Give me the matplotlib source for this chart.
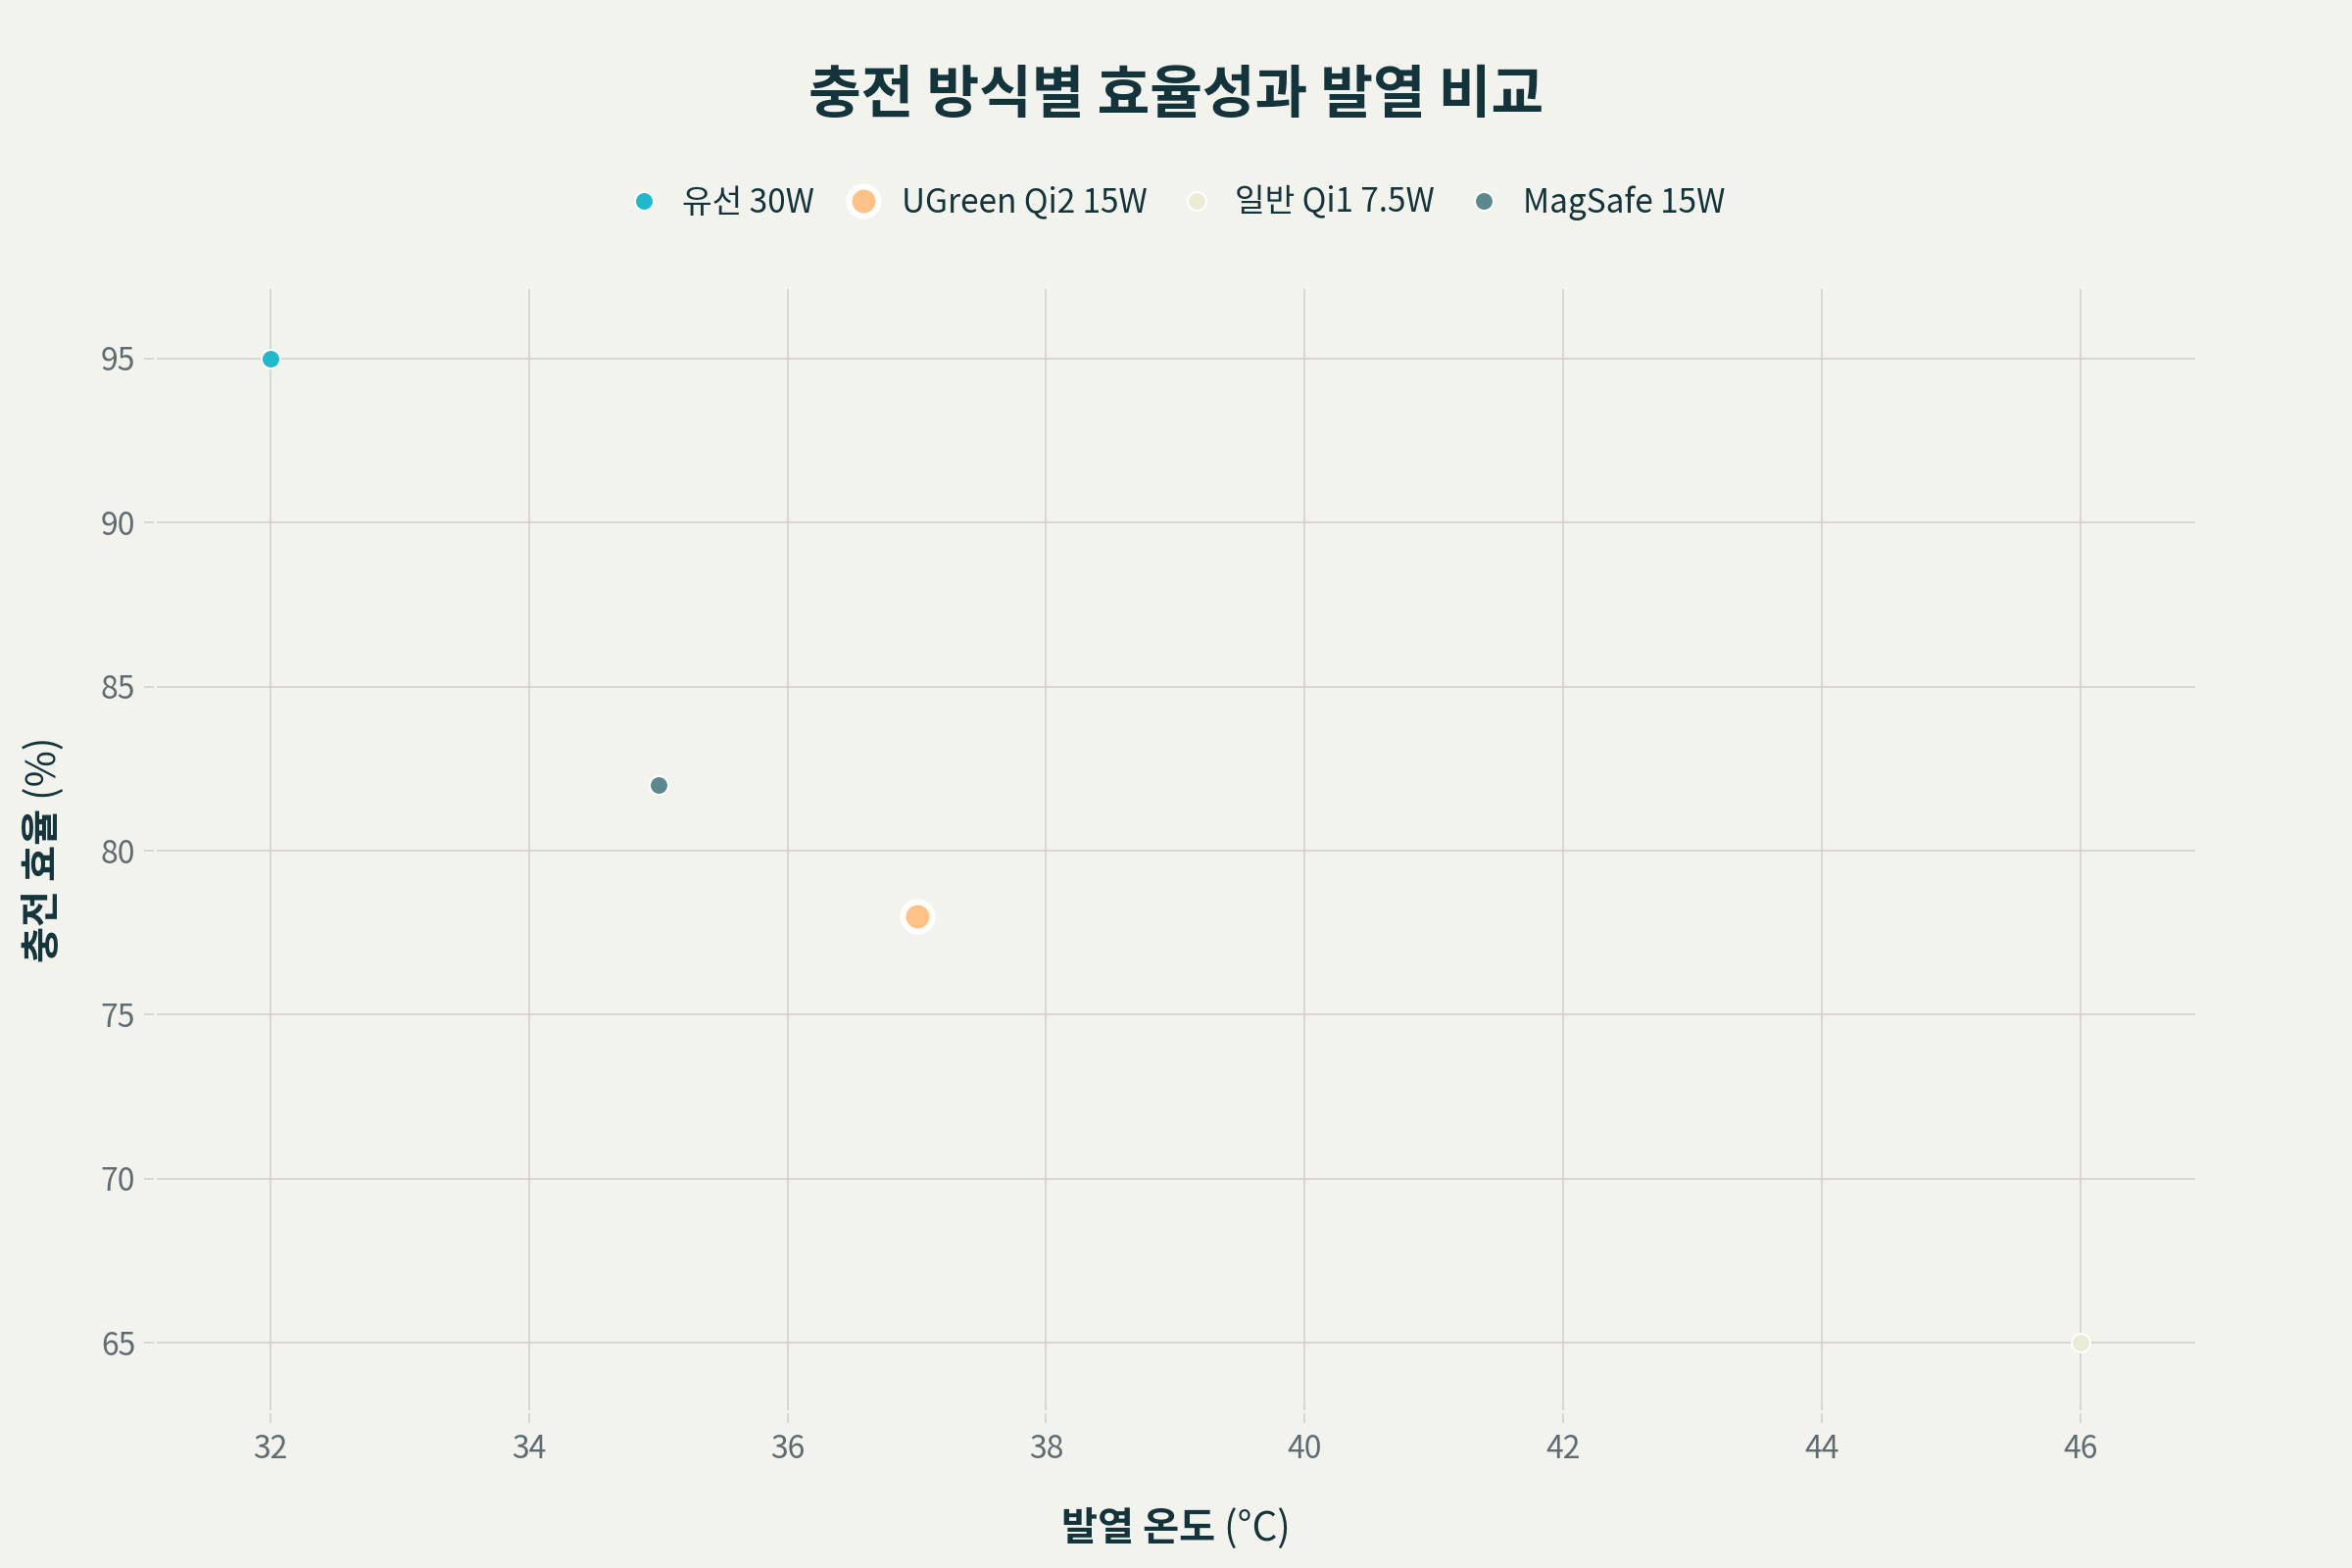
import matplotlib
matplotlib.use('Agg')
import matplotlib.pyplot as plt

plt.rcParams['font.family'] = ['Noto Sans CJK KR', 'DejaVu Sans']

# data
labels = ['유선 30W', 'UGreen Qi2 15W', '일반 Qi1 7.5W', 'MagSafe 15W']
temps = [32, 37, 46, 35]
effs = [95, 78, 65, 82]
colors = ['#1FB8CD', '#FFC185', '#ECEBD5', '#5D878F']
x_ticks = [32, 34, 36, 38, 40, 42, 44, 46]
y_ticks = [65, 70, 75, 80, 85, 90, 95]

BG = '#F3F3EE'
DARK = '#13343B'
GRID = '#D4D0CB'
TICKTXT = '#5E6B71'

fig = plt.figure(figsize=(12, 8), dpi=200, facecolor=BG)
ax = fig.add_axes([160 / 2400, 1 - 1439 / 1600, 2080 / 2400, 1144 / 1600])
ax.set_facecolor(BG)

handles = []
for i in range(len(labels)):
    big = labels[i].startswith('UGreen')
    h, = ax.plot([temps[i]], [effs[i]], linestyle='none', marker='o',
                 markersize=10.8 if big else 6.8,
                 markerfacecolor=colors[i], markeredgecolor='white',
                 markeredgewidth=2.2 if big else 0.7,
                 label=labels[i], zorder=3)
    handles.append(h)

ax.set_xlim(31.12, 46.89)
ax.set_ylim(62.94, 97.12)
ax.set_xticks(x_ticks)
ax.set_yticks(y_ticks)
ax.grid(True, color=GRID, linewidth=0.6)
ax.set_axisbelow(True)
for s in ax.spines.values():
    s.set_visible(False)
ax.spines['left'].set_position(('outward', 1.2))
ax.spines['bottom'].set_position(('outward', 1.2))
ax.tick_params(axis='both', direction='out', length=3.6, width=0.6, color=GRID,
               labelsize=11.5, labelcolor=TICKTXT)
ax.tick_params(axis='x', pad=4)
ax.tick_params(axis='y', pad=3)

# title
fig.text(0.5, 1 - 98 / 1600, '충전 방식별 효율성과 발열 비교', fontsize=21,
         fontweight='bold', color=DARK, ha='center', va='center')

# legend
fig.legend(handles, labels, loc='center', bbox_to_anchor=(0.5, 1 - 207 / 1600),
           ncol=4, frameon=False, fontsize=12, handlelength=1.0,
           handletextpad=0.68, columnspacing=1.0, labelcolor=DARK)

# axis titles: bold part + regular part
fig.canvas.draw()
r = fig.canvas.get_renderer()
W, H = fig.get_size_inches() * fig.dpi

xb = fig.text(0, 0, '발열 온도', fontsize=14.5, fontweight='bold', color=DARK)
xn = fig.text(0, 0, ' (°C)', fontsize=14.5, color=DARK)
w1 = xb.get_window_extent(r).width
w2 = xn.get_window_extent(r).width
x0 = 1200 - (w1 + w2) / 2
ybase = 1 - 1572 / 1600
xb.set_position((x0 / W, ybase))
xn.set_position(((x0 + w1) / W, ybase))

yb = fig.text(0, 0, '충전 효율', fontsize=14.5, fontweight='bold', color=DARK,
              rotation=90, ha='center', va='bottom', rotation_mode='default')
yn = fig.text(0, 0, ' (%)', fontsize=14.5, color=DARK,
              rotation=90, ha='center', va='bottom', rotation_mode='default')
h1 = yb.get_window_extent(r).height
h2 = yn.get_window_extent(r).height
yc = 1600 - 867
y0 = yc - (h1 + h2) / 2
yb.set_position((45 / W, y0 / H))
yn.set_position((45 / W, (y0 + h1) / H))

fig.savefig('out.png', dpi=200, facecolor=BG)
